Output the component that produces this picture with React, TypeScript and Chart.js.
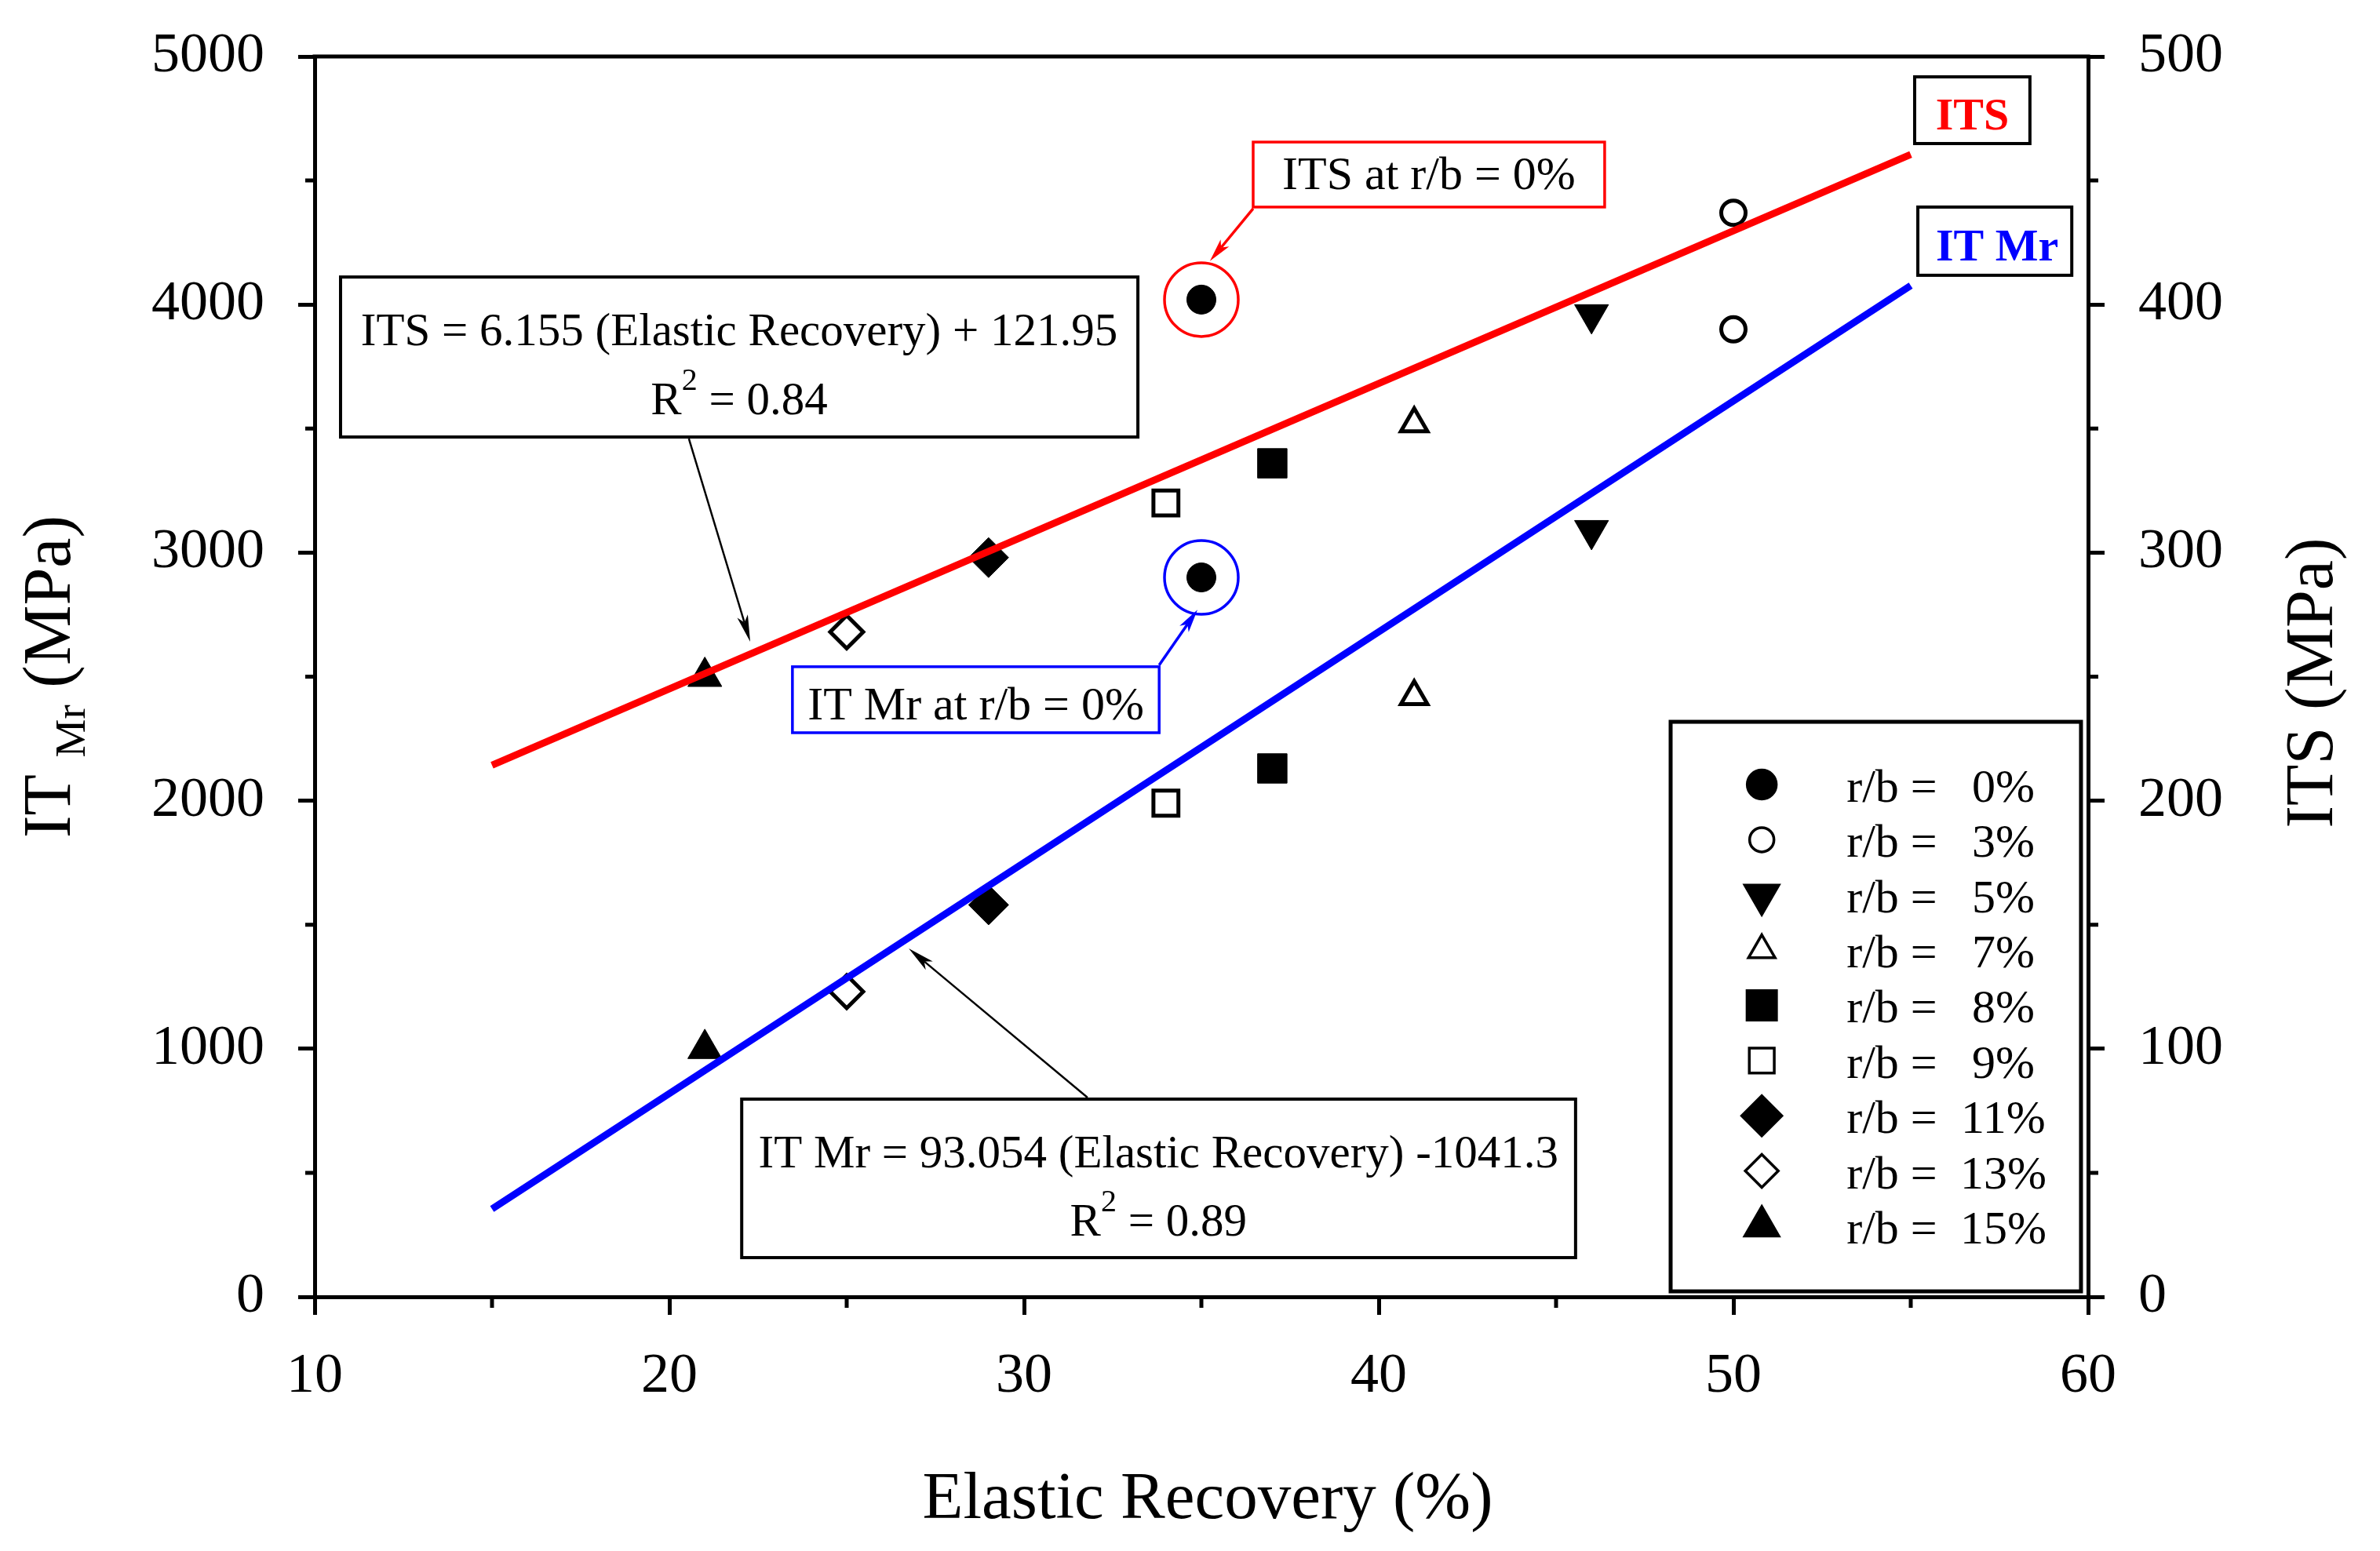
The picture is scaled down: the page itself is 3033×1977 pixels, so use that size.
import React, { useEffect, useRef } from 'react';
import { Chart, registerables } from 'chart.js';
import { drawPoint } from 'chart.js/helpers';

Chart.register(...registerables);

// ---------------- data ----------------
const rbLabels = ['0%', '3%', '5%', '7%', '8%', '9%', '11%', '13%', '15%'];
const elasticRecovery = [35, 50, 46, 41, 37, 34, 29, 25, 21];
const itsValues = [402, 437, 396, 352, 336, 320, 298, 268, 250];
const itMrValues = [2900, 3900, 3090, 2420, 2130, 1990, 1580, 1230, 1000];
const markerShapes = ['circle', 'circle', 'triangle', 'triangle', 'rect', 'rect', 'rectRot', 'rectRot', 'triangle'];
const markerFilled = [true, false, true, false, true, false, true, false, true];
const markerRotation = [0, 0, 180, 0, 0, 0, 0, 0, 0];

const fitX = [15, 55];
const itsFitY = [214.3, 460.5];
const itMrFitY = [354.5, 4076.7];

const xTickValues = [10, 20, 30, 40, 50, 60];
const xMinorTicks = [15, 25, 35, 45, 55];
const yMinorTicks = [500, 1500, 2500, 3500, 4500];
const y2MinorTicks = [50, 150, 250, 350, 450];

const itsEquation = 'ITS = 6.155 (Elastic Recovery) + 121.95';
const itsR2 = ' = 0.84';
const mrEquation = 'IT Mr = 93.054 (Elastic Recovery) -1041.3';
const mrR2 = ' = 0.89';
const itsTagText = 'ITS at r/b = 0%';
const mrTagText = 'IT Mr at r/b = 0%';
const xTitle = 'Elastic Recovery (%)';
const y2Title = 'ITS (MPa)';

// ---------------- style ----------------
const W = 3033;
const H = 1977;
const FONT = "'Liberation Serif', 'Times New Roman', Times, serif";
const RED = '#ff0000';
const BLUE = '#0000ff';

const markerSize: Record<string, [number, number]> = {
  circle: [18.5, 15.5],
  triangle: [25, 19.5],
  rect: [26.5, 22.5],
  rectRot: [25.5, 21],
};
const radiusFor = (shape: string, filled: boolean) => markerSize[shape][filled ? 0 : 1];

function pointDataset(values: number[], axis: string, label: string) {
  return {
    type: 'scatter' as const,
    label,
    data: elasticRecovery.map((x, i) => ({ x, y: values[i] })),
    yAxisID: axis,
    pointStyle: markerShapes,
    pointRadius: markerShapes.map((s, i) => radiusFor(s, markerFilled[i])),
    pointHoverRadius: markerShapes.map((s, i) => radiusFor(s, markerFilled[i])),
    pointRotation: markerRotation,
    pointBackgroundColor: markerFilled.map((f) => (f ? '#000' : '#fff')),
    pointBorderColor: '#000',
    pointBorderWidth: markerFilled.map((f) => (f ? 1 : 5)),
    showLine: false,
    order: 2,
  };
}

function fitDataset(values: number[], axis: string, color: string, label: string) {
  return {
    type: 'line' as const,
    label,
    data: fitX.map((x, i) => ({ x, y: values[i] })),
    yAxisID: axis,
    borderColor: color,
    borderWidth: 9,
    borderCapStyle: 'butt',
    pointRadius: 0,
    pointHoverRadius: 0,
    fill: false,
    tension: 0,
    order: 1,
  };
}

function drawArrow(ctx: CanvasRenderingContext2D, x1: number, y1: number, x2: number, y2: number,
  color: string, lw: number, headLen: number, headW: number) {
  const ang = Math.atan2(y2 - y1, x2 - x1);
  const c = Math.cos(ang), s = Math.sin(ang);
  const bx = x2 - headLen * c, by = y2 - headLen * s;
  const nx = x2 - headLen * 0.75 * c, ny = y2 - headLen * 0.75 * s;
  ctx.save();
  ctx.strokeStyle = color;
  ctx.fillStyle = color;
  ctx.lineWidth = lw;
  ctx.beginPath();
  ctx.moveTo(x1, y1);
  ctx.lineTo(nx, ny);
  ctx.stroke();
  ctx.beginPath();
  ctx.moveTo(x2, y2);
  ctx.lineTo(bx + (headW / 2) * s, by - (headW / 2) * c);
  ctx.lineTo(nx, ny);
  ctx.lineTo(bx - (headW / 2) * s, by + (headW / 2) * c);
  ctx.closePath();
  ctx.fill();
  ctx.restore();
}

function strokeBox(ctx: CanvasRenderingContext2D, x1: number, y1: number, x2: number, y2: number, color: string, lw: number) {
  ctx.save();
  ctx.fillStyle = '#fff';
  ctx.fillRect(x1, y1, x2 - x1, y2 - y1);
  ctx.strokeStyle = color;
  ctx.lineWidth = lw;
  ctx.strokeRect(x1, y1, x2 - x1, y2 - y1);
  ctx.restore();
}

function drawR2(ctx: CanvasRenderingContext2D, cx: number, baseline: number, rest: string) {
  const big = `59px ${FONT}`;
  const small = `40px ${FONT}`;
  ctx.font = big;
  const wR = ctx.measureText('R').width;
  const wRest = ctx.measureText(rest).width;
  ctx.font = small;
  const w2 = ctx.measureText('2').width;
  let x = cx - (wR + w2 + wRest) / 2;
  ctx.textAlign = 'left';
  ctx.textBaseline = 'alphabetic';
  ctx.font = big;
  ctx.fillText('R', x, baseline);
  x += wR;
  ctx.font = small;
  ctx.fillText('2', x, baseline - 31);
  x += w2;
  ctx.font = big;
  ctx.fillText(rest, x, baseline);
}

const overlayPlugin = {
  id: 'overlay',
  beforeDraw(chart: any) {
    const ctx = chart.ctx;
    ctx.save();
    ctx.fillStyle = '#fff';
    ctx.fillRect(0, 0, chart.width, chart.height);
    ctx.restore();
  },
  afterDraw(chart: any) {
    const ctx: CanvasRenderingContext2D = chart.ctx;
    const xs = chart.scales.x, ys = chart.scales.y, y2s = chart.scales.y2;
    const X = (v: number) => xs.getPixelForValue(v);
    const Y = (v: number) => ys.getPixelForValue(v);
    const { left, right, top, bottom } = chart.chartArea;
    ctx.save();

    // top frame
    ctx.strokeStyle = '#000';
    ctx.lineWidth = 5;
    ctx.beginPath();
    ctx.moveTo(left - 2.5, top);
    ctx.lineTo(right + 2.5, top);
    ctx.stroke();

    // minor ticks
    ctx.beginPath();
    xMinorTicks.forEach((v) => { const p = X(v); ctx.moveTo(p, bottom); ctx.lineTo(p, bottom + 14); });
    yMinorTicks.forEach((v) => { const p = Y(v); ctx.moveTo(left, p); ctx.lineTo(left - 12, p); });
    y2MinorTicks.forEach((v) => { const p = y2s.getPixelForValue(v); ctx.moveTo(right, p); ctx.lineTo(right + 13, p); });
    ctx.stroke();

    ctx.fillStyle = '#000';
    // x title
    ctx.font = `85px ${FONT}`;
    ctx.textAlign = 'center';
    ctx.textBaseline = 'alphabetic';
    ctx.fillText(xTitle, (left + right) / 2 + 8, 1935);

    // left title: IT_Mr (MPa)
    {
      const big = `86px ${FONT}`;
      const small = `55px ${FONT}`;
      ctx.font = big;
      const a = 'IT ';
      const c = ' (MPa)';
      const wa = ctx.measureText(a).width;
      const wc = ctx.measureText(c).width;
      ctx.font = small;
      const wb = ctx.measureText('Mr').width;
      const total = wa + wb + wc;
      ctx.save();
      ctx.translate(89, (top + bottom) / 2);
      ctx.rotate(-Math.PI / 2);
      ctx.textAlign = 'left';
      let x = -total / 2;
      ctx.font = big;
      ctx.fillText(a, x, 0);
      x += wa;
      ctx.font = small;
      ctx.fillText('Mr', x, 19);
      x += wb;
      ctx.font = big;
      ctx.fillText(c, x, 0);
      ctx.restore();
    }
    // right title
    ctx.save();
    ctx.font = `86px ${FONT}`;
    ctx.translate(2972, (top + bottom) / 2 + 8);
    ctx.rotate(-Math.PI / 2);
    ctx.textAlign = 'center';
    ctx.fillText(y2Title, 0, 0);
    ctx.restore();

    // highlight rings around r/b = 0% points
    const itsMeta = chart.getDatasetMeta(2).data[0];
    const mrMeta = chart.getDatasetMeta(3).data[0];
    ctx.lineWidth = 3.5;
    ctx.strokeStyle = RED;
    ctx.beginPath();
    ctx.arc(itsMeta.x, itsMeta.y, 47, 0, Math.PI * 2);
    ctx.stroke();
    ctx.strokeStyle = BLUE;
    ctx.beginPath();
    ctx.arc(mrMeta.x, mrMeta.y, 47, 0, Math.PI * 2);
    ctx.stroke();

    // ITS equation box
    strokeBox(ctx, X(10.73), Y(4111), X(33.21), Y(3466), '#000', 4);
    ctx.fillStyle = '#000';
    ctx.font = `59px ${FONT}`;
    ctx.textAlign = 'center';
    ctx.fillText(itsEquation, X(21.97), Y(3836));
    drawR2(ctx, X(21.97), Y(3558), itsR2);
    drawArrow(ctx, X(20.55), Y(3466) + 2, X(22.28), Y(2641), '#000', 2.5, 34, 14);

    // IT Mr equation box
    strokeBox(ctx, X(22.04), Y(797), X(45.55), Y(158), '#000', 4);
    ctx.fillStyle = '#000';
    ctx.font = `59px ${FONT}`;
    ctx.textAlign = 'center';
    ctx.fillText(mrEquation, X(33.79), Y(522));
    drawR2(ctx, X(33.79), Y(247), mrR2);
    drawArrow(ctx, X(31.79), Y(797) - 2, X(26.75), Y(1404), '#000', 2.5, 34, 14);

    // ITS at r/b = 0% tag
    strokeBox(ctx, X(36.46), Y(4655), X(46.37), Y(4393), RED, 3.5);
    ctx.fillStyle = '#000';
    ctx.font = `60px ${FONT}`;
    ctx.textAlign = 'center';
    ctx.fillText(itsTagText, (X(36.46) + X(46.37)) / 2, Y(4466));
    drawArrow(ctx, X(36.46), Y(4393) + 2, X(35.24), Y(4175), RED, 3.5, 30, 14);

    // IT Mr at r/b = 0% tag
    strokeBox(ctx, X(23.47), Y(2540), X(33.81), Y(2274), BLUE, 3.5);
    ctx.fillStyle = '#000';
    ctx.font = `60px ${FONT}`;
    ctx.textAlign = 'center';
    ctx.fillText(mrTagText, (X(23.47) + X(33.81)) / 2, Y(2328));
    drawArrow(ctx, X(33.81), Y(2540) - 2, X(34.89), Y(2770), BLUE, 3.5, 30, 14);

    // series keys
    strokeBox(ctx, X(55.11), Y(4918), X(58.36), Y(4649), '#000', 4);
    ctx.font = `bold 58px ${FONT}`;
    ctx.fillStyle = RED;
    ctx.fillText('ITS', (X(55.11) + X(58.36)) / 2, Y(4706));
    strokeBox(ctx, X(55.2), Y(4393), X(59.54), Y(4118), '#000', 4);
    ctx.fillStyle = BLUE;
    ctx.fillText('IT Mr', (X(55.2) + X(59.54)) / 2 + 3, Y(4178));

    // legend
    strokeBox(ctx, X(48.23), Y(2318), X(59.8), Y(22), '#000', 5);
    const firstRow = 2065;
    const rowStep = 222.5;
    rbLabels.forEach((lab, i) => {
      const cy = Y(firstRow - i * rowStep);
      ctx.save();
      ctx.fillStyle = markerFilled[i] ? '#000' : '#fff';
      ctx.strokeStyle = '#000';
      drawPoint(ctx, {
        pointStyle: markerShapes[i],
        radius: radiusFor(markerShapes[i], markerFilled[i]),
        rotation: markerRotation[i],
        borderWidth: markerFilled[i] ? 1 : 5,
      } as any, X(50.8), cy);
      ctx.restore();
      ctx.fillStyle = '#000';
      ctx.font = `60px ${FONT}`;
      ctx.textAlign = 'left';
      ctx.fillText('r/b =', X(53.19), cy + 22);
      ctx.textAlign = 'center';
      ctx.fillText(lab, X(57.61), cy + 22);
    });

    ctx.restore();
  },
};

export default function App() {
  const ref = useRef<HTMLCanvasElement>(null);
  useEffect(() => {
    document.body.style.margin = '0';
    document.body.style.overflow = 'hidden';
    const canvas = ref.current!;
    const tickFont = { family: FONT, size: 72 };
    const yTickFont = { family: FONT, size: 72, lineHeight: 0.5 };
    const plain = (v: any) => String(v);
    const chart = new Chart(canvas, {
      type: 'scatter',
      data: {
        datasets: [
          fitDataset(itsFitY, 'y2', RED, 'ITS fit'),
          fitDataset(itMrFitY, 'y', BLUE, 'IT Mr fit'),
          pointDataset(itsValues, 'y2', 'ITS'),
          pointDataset(itMrValues, 'y', 'IT Mr'),
        ] as any,
      },
      options: {
        animation: false,
        responsive: false,
        devicePixelRatio: 1,
        layout: { padding: { top: 72, left: 0, right: 0, bottom: 0 }, autoPadding: false },
        plugins: { legend: { display: false }, tooltip: { enabled: false } },
        events: [],
        scales: {
          x: {
            type: 'linear',
            position: 'bottom',
            min: 10,
            max: 60,
            afterBuildTicks: (s: any) => { s.ticks = xTickValues.map((v) => ({ value: v })); },
            ticks: { font: tickFont, color: '#000', padding: 36, maxRotation: 0, autoSkip: false, callback: plain },
            grid: { drawOnChartArea: false, tickLength: 23, lineWidth: 5, color: '#000' },
            border: { display: true, width: 5, color: '#000' },
            afterFit: (s: any) => { s.height = 324; },
          },
          y: {
            type: 'linear',
            position: 'left',
            min: 0,
            max: 5000,
            ticks: { stepSize: 1000, font: yTickFont, color: '#000', padding: 43, callback: plain },
            grid: { drawOnChartArea: false, tickLength: 21, lineWidth: 5, color: '#000' },
            border: { display: true, width: 5, color: '#000' },
            afterFit: (s: any) => { s.width = 401; },
          },
          y2: {
            type: 'linear',
            position: 'right',
            min: 0,
            max: 500,
            ticks: { stepSize: 100, font: yTickFont, color: '#000', padding: 43, callback: plain },
            grid: { drawOnChartArea: false, tickLength: 21, lineWidth: 5, color: '#000' },
            border: { display: true, width: 5, color: '#000' },
            afterFit: (s: any) => { s.width = 372; },
          },
        },
      } as any,
      plugins: [overlayPlugin],
    });
    return () => chart.destroy();
  }, []);
  return (
    <div style={{ width: W, height: H, background: '#fff' }}>
      <canvas ref={ref} width={W} height={H} style={{ display: 'block', width: W, height: H }} />
    </div>
  );
}
